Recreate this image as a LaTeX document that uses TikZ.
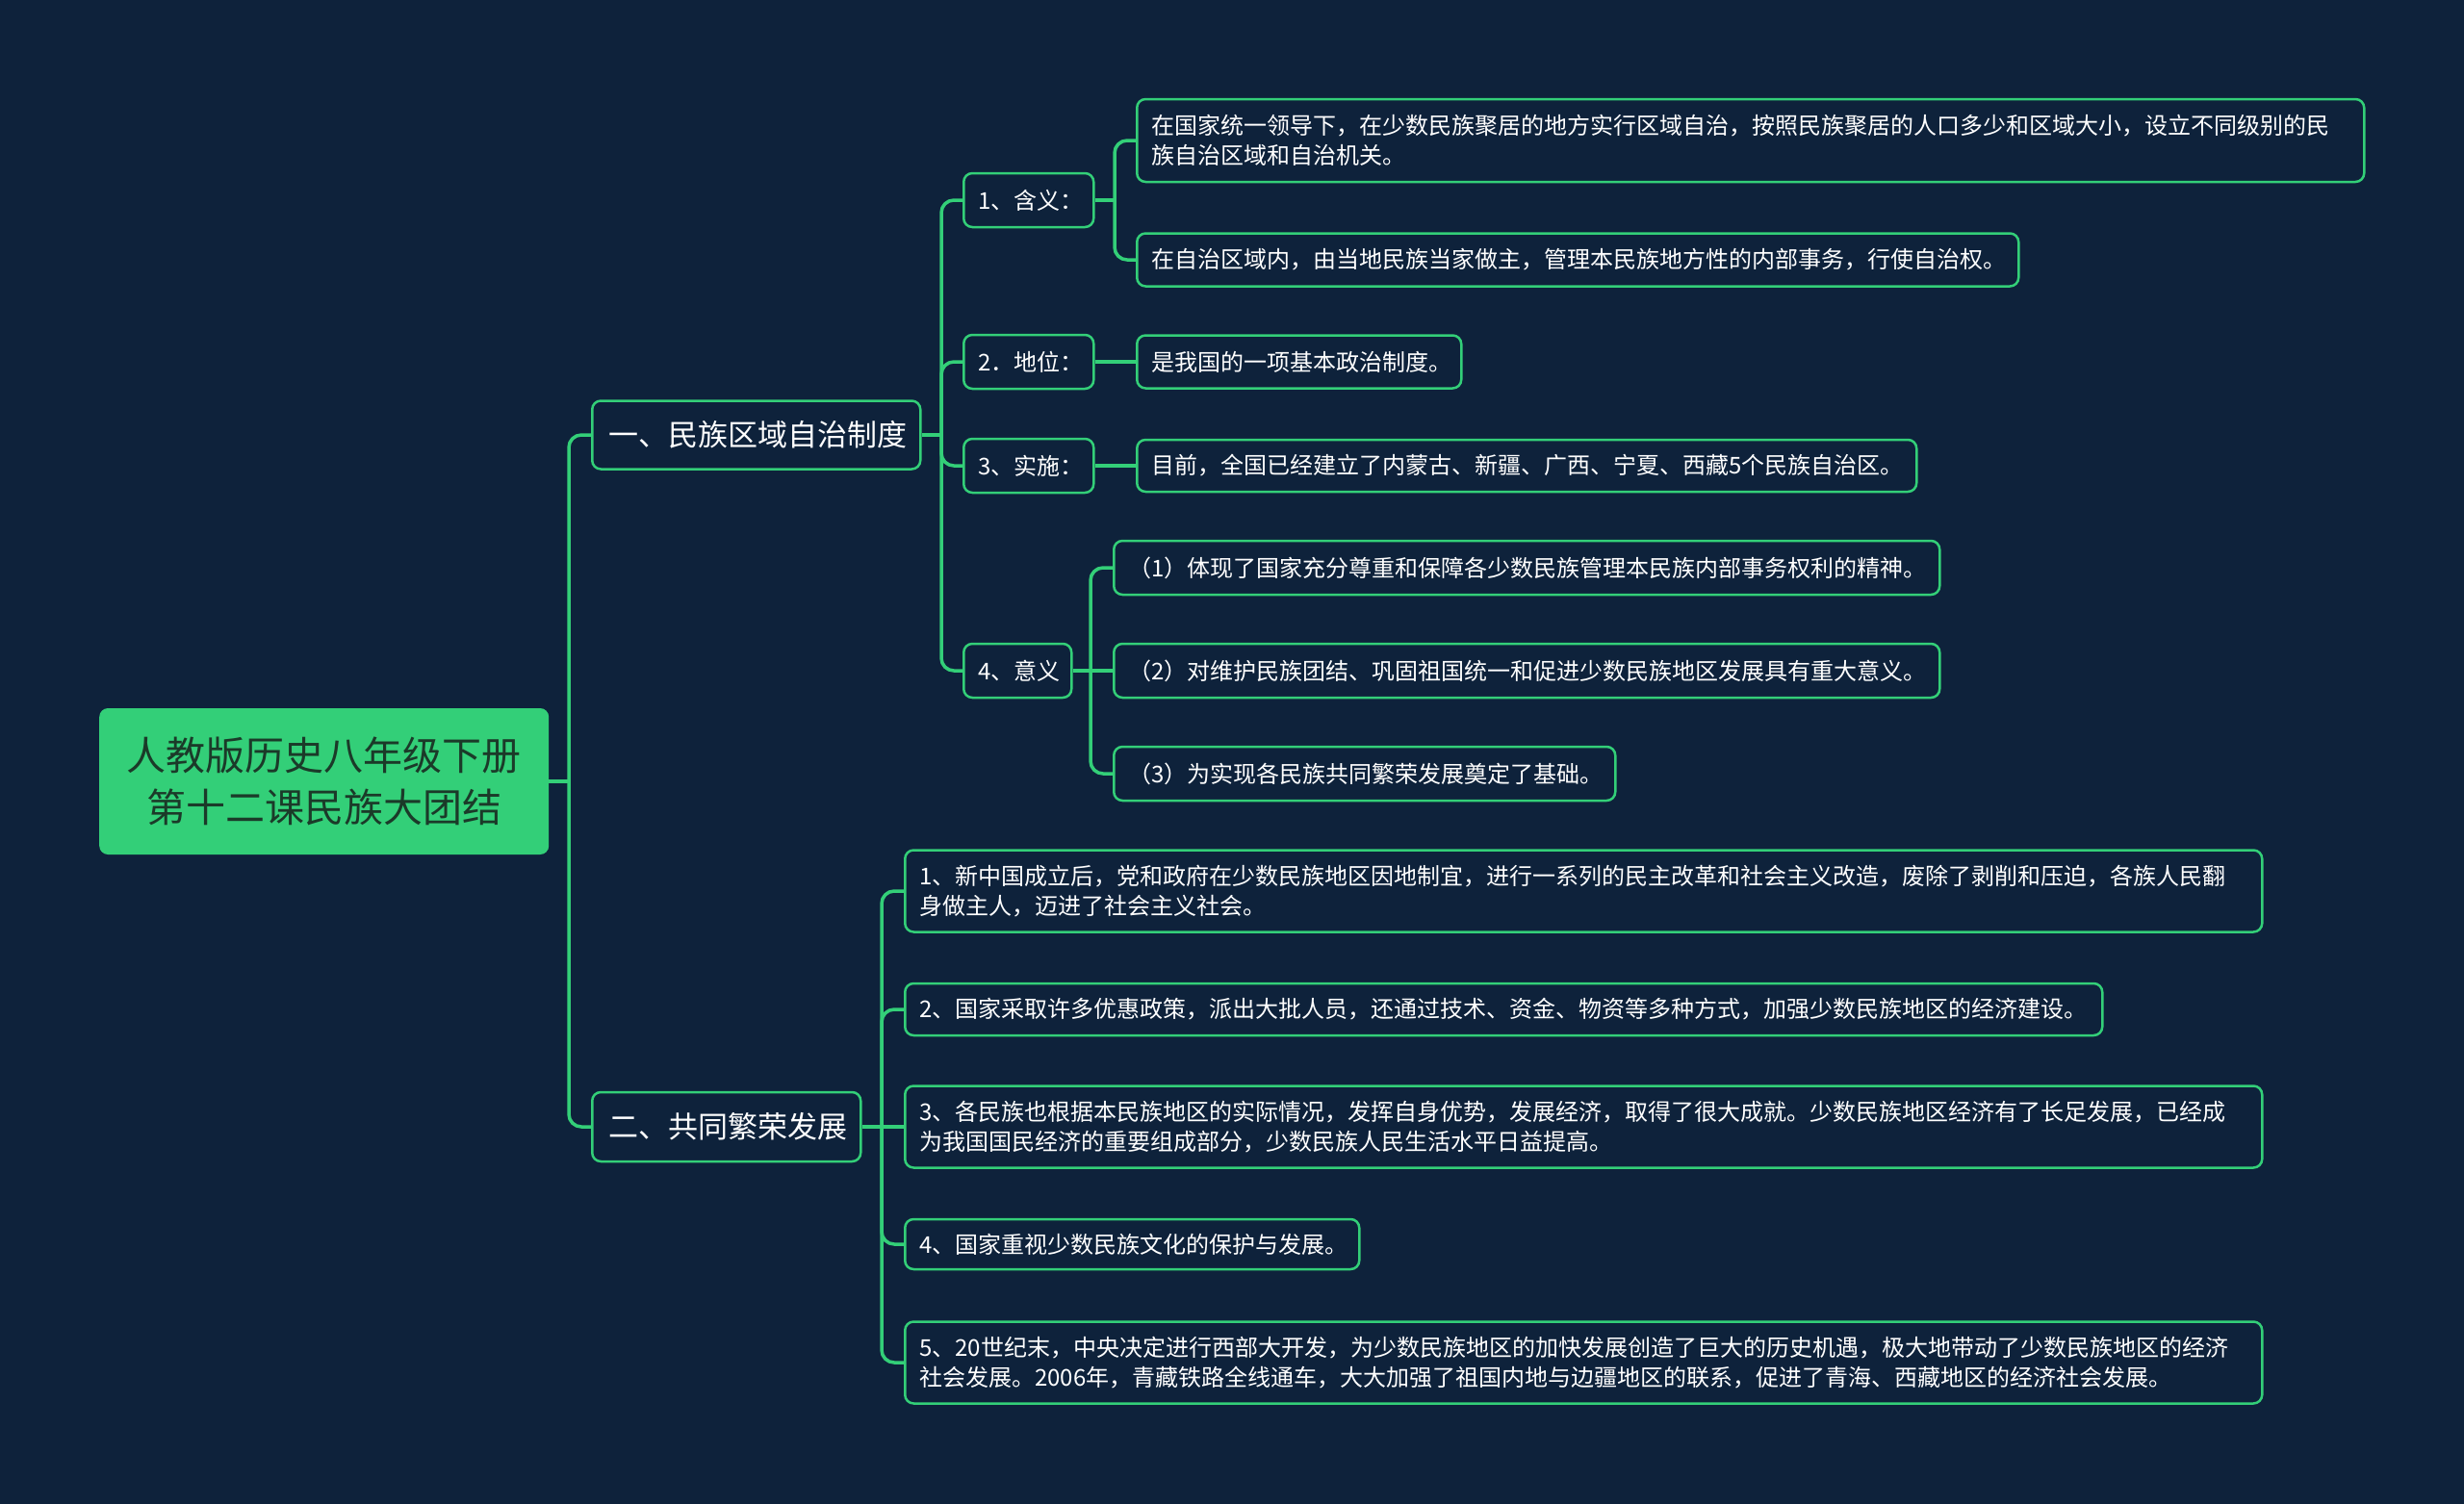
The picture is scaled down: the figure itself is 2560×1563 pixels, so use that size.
\documentclass[tikz,border=0pt]{standalone}
\usepackage{fontspec}
\setmainfont{Noto Sans CJK SC}
\definecolor{bg}{HTML}{0E223B}
\definecolor{lc}{HTML}{33CF78}
\definecolor{roottext}{HTML}{1B3A29}
\begin{document}
\begin{tikzpicture}[x=1pt,y=-1pt,
  conn/.style={draw=lc, line width=3.5pt, rounded corners=13pt},
  box/.style={draw=lc, line width=2.5pt, rounded corners=9pt, fill=bg, text=white, anchor=west, align=left, inner xsep=15pt, inner ysep=0pt},
  leaf/.style={box, font=\fontsize{24}{31}\selectfont},
  lvtwo/.style={box, font=\fontsize{24}{30}\selectfont, minimum height=56pt},
  lvone/.style={box, font=\fontsize{31}{38}\selectfont, inner xsep=17pt},
  rootbox/.style={fill=lc, rounded corners=9pt, text=roottext, align=center, anchor=west, inner xsep=0pt, inner ysep=0pt, font=\fontsize{41}{54}\selectfont}
]
\useasboundingbox (0,0) rectangle (2560,1563);
\fill[bg] (0,0) rectangle (2560,1563);

% root
\node[rootbox, text width=467pt, minimum height=152pt] (root) at (103,812) {人教版历史八年级下册\\第十二课民族大团结};

% level 1
\node[lvone, text width=307pt, minimum height=71pt] (A) at (614,452) {一、民族区域自治制度};
\node[lvone, text width=245pt, minimum height=72pt] (B) at (614,1171) {二、共同繁荣发展};

% level 2
\node[lvtwo, text width=105pt] (a1) at (1000,208) {1、含义：};
\node[lvtwo, text width=105pt] (a2) at (1000,376) {2．地位：};
\node[lvtwo, text width=105pt] (a3) at (1000,484) {3、实施：};
\node[lvtwo, text width=82pt] (a4) at (1000,697) {4、意义};

% leaves of A
\node[leaf, text width=1245pt, minimum height=86pt] (a11) at (1180,146) {在国家统一领导下，在少数民族聚居的地方实行区域自治，按照民族聚居的人口多少和区域大小，设立不同级别的民\\族自治区域和自治机关。};
\node[leaf, text width=886pt, minimum height=55pt] (a12) at (1180,270) {在自治区域内，由当地民族当家做主，管理本民族地方性的内部事务，行使自治权。};
\node[leaf, text width=307pt, minimum height=55pt] (a21) at (1180,376) {是我国的一项基本政治制度。};
\node[leaf, text width=780pt, minimum height=54pt] (a31) at (1180,484) {目前，全国已经建立了内蒙古、新疆、广西、宁夏、西藏5个民族自治区。};
\node[leaf, text width=828pt, minimum height=56pt] (a41) at (1156,590) {（1）体现了国家充分尊重和保障各少数民族管理本民族内部事务权利的精神。};
\node[leaf, text width=828pt, minimum height=56pt] (a42) at (1156,697) {（2）对维护民族团结、巩固祖国统一和促进少数民族地区发展具有重大意义。};
\node[leaf, text width=491pt, minimum height=56pt] (a43) at (1156,804) {（3）为实现各民族共同繁荣发展奠定了基础。};

% leaves of B
\node[leaf, text width=1380pt, minimum height=85pt] (b1) at (939,926) {1、新中国成立后，党和政府在少数民族地区因地制宜，进行一系列的民主改革和社会主义改造，废除了剥削和压迫，各族人民翻\\身做主人，迈进了社会主义社会。};
\node[leaf, text width=1214pt, minimum height=54pt] (b2) at (939,1049) {2、国家采取许多优惠政策，派出大批人员，还通过技术、资金、物资等多种方式，加强少数民族地区的经济建设。};
\node[leaf, text width=1380pt, minimum height=85pt] (b3) at (939,1171) {3、各民族也根据本民族地区的实际情况，发挥自身优势，发展经济，取得了很大成就。少数民族地区经济有了长足发展，已经成\\为我国国民经济的重要组成部分，少数民族人民生活水平日益提高。};
\node[leaf, text width=442pt, minimum height=52pt] (b4) at (939,1293) {4、国家重视少数民族文化的保护与发展。};
\node[leaf, text width=1380pt, minimum height=85pt] (b5) at (939,1416) {5、20世纪末，中央决定进行西部大开发，为少数民族地区的加快发展创造了巨大的历史机遇，极大地带动了少数民族地区的经济\\社会发展。2006年，青藏铁路全线通车，大大加强了祖国内地与边疆地区的联系，促进了青海、西藏地区的经济社会发展。};

% junctions
\coordinate (j0) at (591,812);
\coordinate (jA) at (978,452);
\coordinate (jB) at (916,1171);
\coordinate (ja1) at (1158,208);
\coordinate (ja4) at (1133,697);

\draw[conn] (root.east) -- (j0);
\draw[conn] (j0) |- (A.west);
\draw[conn] (j0) |- (B.west);

\draw[conn] (A.east) -- (jA);
\draw[conn] (jA) |- (a1.west);
\draw[conn] (jA) |- (a2.west);
\draw[conn] (jA) |- (a3.west);
\draw[conn] (jA) |- (a4.west);

\draw[conn] (a1.east) -- (ja1);
\draw[conn] (ja1) |- (a11.west);
\draw[conn] (ja1) |- (a12.west);
\draw[conn] (a2.east) -- (a21.west);
\draw[conn] (a3.east) -- (a31.west);
\draw[conn] (a4.east) -- (ja4);
\draw[conn] (ja4) |- (a41.west);
\draw[conn] (ja4) -- (a42.west);
\draw[conn] (ja4) |- (a43.west);

\draw[conn] (B.east) -- (jB);
\draw[conn] (jB) |- (b1.west);
\draw[conn] (jB) |- (b2.west);
\draw[conn] (jB) -- (b3.west);
\draw[conn] (jB) |- (b4.west);
\draw[conn] (jB) |- (b5.west);
\end{tikzpicture}
\end{document}
